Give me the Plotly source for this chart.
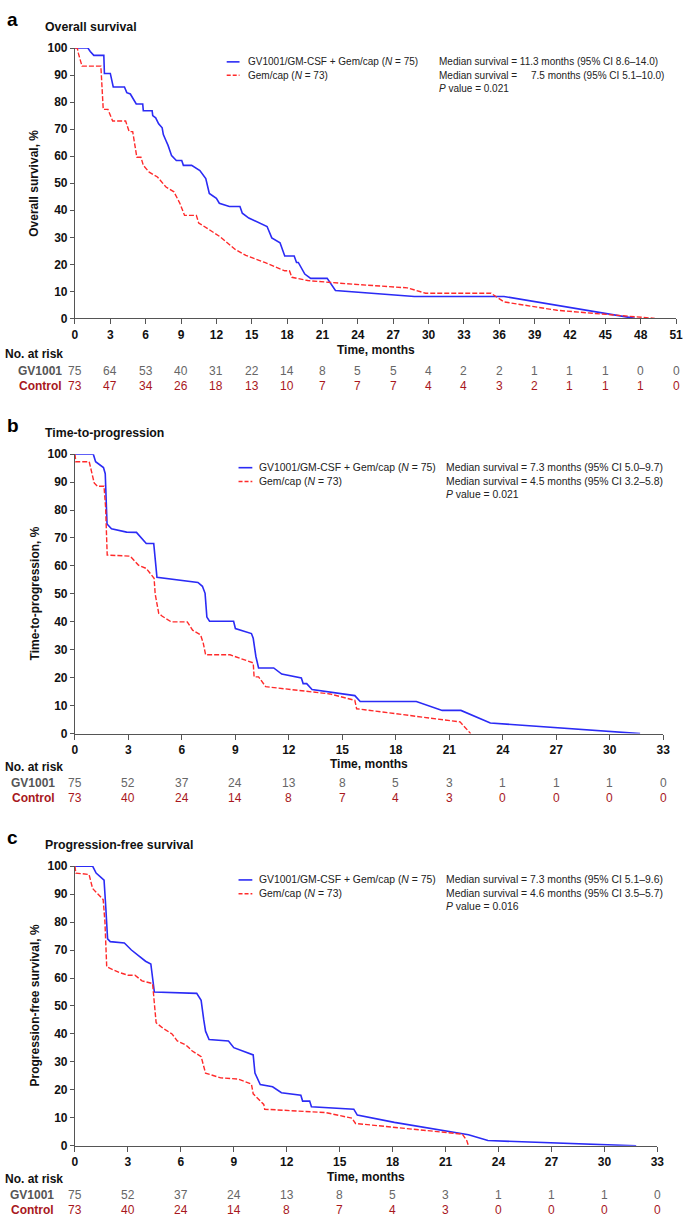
import plotly.graph_objects as go

W, H = 689, 1228
FONT = "Liberation Sans, Arial, Helvetica, sans-serif"
BLUE = "#2b2bf5"
RED = "#ff2a2a"
AXC = "#555555"
GVC = "#555555"
CTC = "#a8171c"

# ---------------- data ----------------
# Panel a: overall survival
os_gv_t = [0, 1.1, 1.3, 1.6, 2.45, 2.5, 3.0, 3.25, 4.2, 4.4, 4.7, 5.0, 5.2, 5.75, 5.8, 6.55, 6.6, 6.85, 7.1,
           7.4, 7.5, 7.7, 7.9, 8.2, 8.6, 9.06, 9.2, 9.9, 10.6, 11.1, 11.4, 12.0, 12.25, 13.1, 14.0, 14.2, 14.75,
           16.3, 16.7, 17.4, 17.8, 18.6, 18.8, 18.95, 19.5, 20.0, 21.4, 22.1, 28.8, 36.4, 47.5]
os_gv_s = [100, 100, 98.7, 97.3, 97.3, 90.6, 90.6, 85.6, 85.6, 83.5, 83.0, 80.5, 79.3, 79.3, 76.8, 76.8, 75.0, 74.2, 72.0,
           70.5, 68.0, 66.0, 64.0, 60.2, 58.4, 58.4, 56.6, 56.6, 54.7, 51.7, 46.2, 44.4, 42.6, 41.4, 41.4, 38.9, 37.1,
           34.0, 29.8, 28.0, 23.1, 23.1, 20.7, 20.7, 16.4, 14.8, 14.8, 10.3, 8.1, 8.1, 0]
os_ct_t = [0, 0.2, 0.3, 0.5, 0.6, 2.2, 2.4, 2.8, 3.2, 4.3, 4.6, 4.9, 5.25, 5.6, 5.8, 6.3, 6.8, 7.0, 7.7, 8.4,
           8.9, 9.3, 10.3, 10.5, 11.4, 12.25, 13.6, 14.5, 16.1, 17.8, 18.2, 18.4, 19.75, 23.1, 28.2, 29.75,
           35.3, 36.4, 40.9, 49.2]
os_ct_s = [100, 100, 97.9, 95.0, 93.3, 93.3, 77.3, 77.3, 73.0, 73.0, 69.1, 69.1, 59.6, 59.6, 56.6, 54.1, 52.9, 52.3, 48.7, 46.8,
           42.6, 38.1, 38.1, 35.3, 32.8, 30.4, 25.5, 23.3, 20.7, 17.6, 17.6, 15.2, 14.0, 12.8, 11.3, 9.3,
           9.3, 6.1, 3.0, 0]

# Panel b: time-to-progression
ttp_gv_t = [0, 1.03, 1.16, 1.6, 1.7, 1.75, 1.8, 2.05, 2.9, 3.45, 4.0, 4.42, 4.5, 4.6, 6.9, 7.15, 7.3, 7.4, 7.55,
            8.9, 9.0, 9.9, 10.0, 10.15, 10.3, 11.15, 11.6, 12.7, 12.8, 13.0, 13.3, 15.7, 16.0, 19.15, 20.6,
            21.65, 23.3, 31.7]
ttp_gv_s = [100, 100, 97.3, 95.2, 93.0, 85.0, 75.0, 73.3, 72.1, 72.0, 68.0, 68.0, 61.5, 55.9, 54.1, 52.7, 50.2, 41.7, 40.2,
            40.2, 37.6, 35.8, 34.1, 27.6, 23.5, 23.5, 21.3, 19.9, 17.9, 17.9, 15.8, 13.6, 11.5, 11.5, 8.3,
            8.3, 3.8, 0]
ttp_ct_t = [0, 0.05, 0.8, 1.08, 1.27, 1.63, 1.72, 1.81, 3.1, 3.56, 4.0, 4.25, 4.44, 4.5, 4.7, 4.9, 5.4, 6.3, 6.6,
            7.05, 7.2, 7.33, 8.7, 10.0, 10.05, 10.3, 10.7, 14.3, 15.7, 15.8, 21.6, 22.2]
ttp_ct_s = [100, 97.3, 97.3, 89.7, 88.5, 88.5, 81.0, 63.9, 63.5, 60.3, 59.1, 57.3, 55.6, 50.0, 43.0, 42.0, 40.0, 40.0, 37.0,
            35.3, 32.3, 28.2, 28.2, 25.3, 20.3, 20.3, 16.8, 14.2, 11.9, 8.9, 4.2, 0]

# Panel c: progression-free survival
pfs_gv_t = [0, 1.0, 1.2, 1.5, 1.65, 1.75, 1.85, 2.0, 2.8, 3.2, 3.6, 4.0, 4.3, 4.4, 4.5, 6.9, 7.15, 7.3, 7.4, 7.6,
            8.7, 9.0, 10.1, 10.2, 10.5, 11.2, 11.7, 12.8, 12.9, 13.3, 13.4, 15.8, 16.0, 18.1, 22.3, 23.4, 31.8]
pfs_gv_s = [100, 100, 97.5, 96.0, 95.0, 85.0, 74.0, 73.0, 72.5, 70.0, 68.0, 66.0, 65.0, 60.0, 55.0, 54.5, 52.0, 45.0, 41.0, 38.0,
            37.5, 35.1, 32.5, 26.0, 21.9, 21.1, 19.0, 18.1, 16.0, 16.0, 14.0, 13.1, 11.0, 8.4, 4.0, 1.9, 0]
pfs_ct_t = [0, 0.05, 0.8, 1.0, 1.3, 1.6, 1.7, 1.8, 2.5, 3.0, 3.4, 3.8, 4.4, 4.5, 4.6, 5.0, 5.5, 5.8, 6.3, 6.65,
            7.15, 7.4, 8.26, 9.25, 10.0, 10.1, 10.7, 10.75, 14.2, 15.7, 15.9, 21.95, 22.2, 22.3]
pfs_ct_s = [100, 97.5, 97.0, 92.0, 90.0, 88.0, 80.0, 64.0, 62.0, 61.0, 61.0, 59.0, 58.0, 50.0, 44.0, 42.0, 40.0, 37.5, 36.0, 33.9,
            31.9, 26.0, 24.3, 23.9, 22.1, 18.6, 14.8, 13.1, 11.9, 9.9, 8.0, 4.2, 1.9, 0]

# Numbers at risk
risk_months_a = list(range(0, 52, 3))
risk_a_gv = [75, 64, 53, 40, 31, 22, 14, 8, 5, 5, 4, 2, 2, 1, 1, 1, 0, 0]
risk_a_ct = [73, 47, 34, 26, 18, 13, 10, 7, 7, 7, 4, 4, 3, 2, 1, 1, 1, 0]
risk_months_bc = list(range(0, 34, 3))
risk_b_gv = [75, 52, 37, 24, 13, 8, 5, 3, 1, 1, 1, 0]
risk_b_ct = [73, 40, 24, 14, 8, 7, 4, 3, 0, 0, 0, 0]
risk_c_gv = [75, 52, 37, 24, 13, 8, 5, 3, 1, 1, 1, 0]
risk_c_ct = [73, 40, 24, 14, 8, 7, 4, 3, 0, 0, 0, 0]

legend_gv = "GV1001/GM-CSF + Gem/cap (<i>N</i> = 75)"
legend_ct = "Gem/cap (<i>N</i> = 73)"
stats_a = ["Median survival = 11.3 months (95% CI 8.6\u201314.0)",
           "Median survival = \u2007\u20077.5 months (95% CI 5.1\u201310.0)",
           "<i>P</i> value = 0.021"]
stats_b = ["Median survival = 7.3 months (95% CI 5.0\u20139.7)",
           "Median survival = 4.5 months (95% CI 3.2\u20135.8)",
           "<i>P</i> value = 0.021"]
stats_c = ["Median survival = 7.3 months (95% CI 5.1\u20139.6)",
           "Median survival = 4.6 months (95% CI 3.5\u20135.7)",
           "<i>P</i> value = 0.016"]


def px(x):
    return x / W


def py(y):
    return 1 - y / H


panels = [
    dict(letter="a", title="Overall survival", ytitle="Overall survival, %",
         gv=(os_gv_t, os_gv_s), ct=(os_ct_t, os_ct_s), xmax=51,
         rm=risk_months_a, rgv=risk_a_gv, rct=risk_a_ct, stats=stats_a, st_size=10.0,
         xd=(73, 683), yd=(41.5, 315), letter_y=13, title_y=20,
         leg_x=(227, 240, 247), leg_y=(55.5, 69), st_x=440, st_y=(55.5, 69, 82.5),
         xt_y=346.7, nar_y=350.7, row_y=(368.3, 383.3), lab_x=62),
    dict(letter="b", title="Time-to-progression", ytitle="Time-to-progression, %",
         gv=(ttp_gv_t, ttp_gv_s), ct=(ttp_ct_t, ttp_ct_s), xmax=33,
         rm=risk_months_bc, rgv=risk_b_gv, rct=risk_b_ct, stats=stats_b, st_size=10.4,
         xd=(73, 670), yd=(452.3, 735), letter_y=423, title_y=430.7,
         leg_x=(239, 253, 258), leg_y=(466, 480), st_x=447, st_y=(466, 479.5, 493),
         xt_y=766, nar_y=769, row_y=(784.7, 800.3), lab_x=55),
    dict(letter="c", title="Progression-free survival", ytitle="Progression-free survival, %",
         gv=(pfs_gv_t, pfs_gv_s), ct=(pfs_ct_t, pfs_ct_s), xmax=33,
         rm=risk_months_bc, rgv=risk_c_gv, rct=risk_c_ct, stats=stats_c, st_size=10.4,
         xd=(73, 664), yd=(869, 1152), letter_y=840, title_y=847.7,
         leg_x=(239, 253, 258), leg_y=(883, 897), st_x=447, st_y=(883, 896.5, 910),
         xt_y=1183.3, nar_y=1186, row_y=(1201.7, 1217.3), lab_x=54),
]

fig = go.Figure()
annotations = []
shapes = []
layout = dict(
    width=W, height=H, margin=dict(l=0, r=0, t=0, b=0),
    paper_bgcolor="white", plot_bgcolor="white", showlegend=False,
    font=dict(family=FONT, color="#111111"),
)

for i, p in enumerate(panels, start=1):
    xa = "x" if i == 1 else f"x{i}"
    ya = "y" if i == 1 else f"y{i}"
    fig.add_trace(go.Scatter(x=p["gv"][0], y=p["gv"][1], mode="lines", xaxis=xa, yaxis=ya,
                             line=dict(color=BLUE, width=1.6), name="GV1001/GM-CSF + Gem/cap"))
    fig.add_trace(go.Scatter(x=p["ct"][0], y=p["ct"][1], mode="lines", xaxis=xa, yaxis=ya,
                             line=dict(color=RED, width=1.4, dash="5px,2px"), name="Gem/cap"))
    axkey = "xaxis" if i == 1 else f"xaxis{i}"
    aykey = "yaxis" if i == 1 else f"yaxis{i}"
    layout[axkey] = dict(
        domain=[px(p["xd"][0]), px(p["xd"][1])], range=[0, p["xmax"] + 0.001], anchor=ya,
        tickmode="linear", tick0=0, dtick=3, showline=True, linecolor=AXC, linewidth=1,
        ticks="outside", ticklen=5, tickcolor=AXC, tickwidth=1, showgrid=False, zeroline=False,
        tickfont=dict(family=FONT, size=12, color="#111111", weight="bold"),
    )
    layout[aykey] = dict(
        domain=[py(p["yd"][1]), py(p["yd"][0])], range=[0, 100], anchor=xa,
        tickmode="linear", tick0=0, dtick=10, showline=True, linecolor=AXC, linewidth=1,
        ticks="outside", ticklen=4, tickcolor=AXC, tickwidth=1, showgrid=False, zeroline=False,
        tickfont=dict(family=FONT, size=12, color="#111111", weight="bold"),
    )
    # panel letter and title
    annotations.append(dict(text=f"<b>{p['letter']}</b>", x=px(2), y=py(p["letter_y"]), xref="paper", yref="paper",
                            xanchor="left", yanchor="middle", showarrow=False,
                            font=dict(family=FONT, size=19, color="#000000")))
    annotations.append(dict(text=f"<b>{p['title']}</b>", x=px(41), y=py(p["title_y"]), xref="paper", yref="paper",
                            xanchor="left", yanchor="middle", showarrow=False,
                            font=dict(family=FONT, size=12.3, color="#111111")))
    # y-axis title
    ymid = (p["yd"][0] + p["yd"][1]) / 2
    annotations.append(dict(text=f"<b>{p['ytitle']}</b>", x=px(32), y=py(ymid), xref="paper", yref="paper",
                            xanchor="center", yanchor="middle", textangle=-90, showarrow=False,
                            font=dict(family=FONT, size=12, color="#111111")))
    # x-axis title
    xmid = (p["xd"][0] + p["xd"][1]) / 2
    annotations.append(dict(text="<b>Time, months</b>", x=px(xmid), y=py(p["xt_y"]), xref="paper", yref="paper",
                            xanchor="center", yanchor="middle", showarrow=False,
                            font=dict(family=FONT, size=12, color="#111111")))
    # legend
    lx0, lx1, ltx = p["leg_x"]
    shapes.append(dict(type="line", xref="paper", yref="paper", x0=px(lx0), x1=px(lx1),
                       y0=py(p["leg_y"][0]), y1=py(p["leg_y"][0]), line=dict(color=BLUE, width=1.6)))
    shapes.append(dict(type="line", xref="paper", yref="paper", x0=px(lx0), x1=px(lx1),
                       y0=py(p["leg_y"][1]), y1=py(p["leg_y"][1]), line=dict(color=RED, width=1.4, dash="4px,2px")))
    for txt, yy in zip([legend_gv, legend_ct], p["leg_y"]):
        annotations.append(dict(text=txt, x=px(ltx), y=py(yy), xref="paper", yref="paper",
                                xanchor="left", yanchor="middle", showarrow=False,
                                font=dict(family=FONT, size=p["st_size"], color="#222222")))
    for txt, yy in zip(p["stats"], p["st_y"]):
        annotations.append(dict(text=txt, x=px(p["st_x"]), y=py(yy), xref="paper", yref="paper",
                                xanchor="left", yanchor="middle", showarrow=False,
                                font=dict(family=FONT, size=p["st_size"], color="#222222")))
    # numbers at risk
    annotations.append(dict(text="<b>No. at risk</b>", x=0, y=py(p["nar_y"]), xref="paper", yref="paper",
                            xanchor="left", yanchor="middle", showarrow=False,
                            font=dict(family=FONT, size=12, color="#111111")))
    annotations.append(dict(text="<b>GV1001</b>", x=px(p["lab_x"]), y=py(p["row_y"][0]), xref="paper", yref="paper",
                            xanchor="right", yanchor="middle", showarrow=False,
                            font=dict(family=FONT, size=12, color=GVC)))
    annotations.append(dict(text="<b>Control</b>", x=px(p["lab_x"]), y=py(p["row_y"][1]), xref="paper", yref="paper",
                            xanchor="right", yanchor="middle", showarrow=False,
                            font=dict(family=FONT, size=12, color=CTC)))
    for m, a, b in zip(p["rm"], p["rgv"], p["rct"]):
        annotations.append(dict(text=str(a), x=m, y=py(p["row_y"][0]), xref=xa, yref="paper",
                                xanchor="center", yanchor="middle", showarrow=False,
                                font=dict(family=FONT, size=12, color="#666666")))
        annotations.append(dict(text=str(b), x=m, y=py(p["row_y"][1]), xref=xa, yref="paper",
                                xanchor="center", yanchor="middle", showarrow=False,
                                font=dict(family=FONT, size=12, color=CTC)))

layout["annotations"] = annotations
layout["shapes"] = shapes
fig.update_layout(**layout)
fig.write_html("out.html", config={"displayModeBar": False},
               post_script="document.body.style.margin='0px';document.body.style.overflow='hidden';")
